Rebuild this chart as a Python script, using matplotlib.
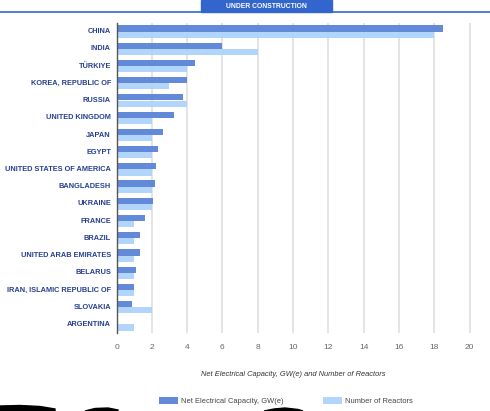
import matplotlib
matplotlib.use('Agg')
import matplotlib.pyplot as plt
from matplotlib.patches import Rectangle, Polygon
from matplotlib.lines import Line2D
import numpy as np

# data
countries = ['CHINA', 'INDIA', 'TÜRKIYE', 'KOREA, REPUBLIC OF', 'RUSSIA',
             'UNITED KINGDOM', 'JAPAN', 'EGYPT', 'UNITED STATES OF AMERICA',
             'BANGLADESH', 'UKRAINE', 'FRANCE', 'BRAZIL', 'UNITED ARAB EMIRATES',
             'BELARUS', 'IRAN, ISLAMIC REPUBLIC OF', 'SLOVAKIA', 'ARGENTINA']
capacity = [18.52, 6.0, 4.46, 4.0, 3.76, 3.26, 2.65, 2.35, 2.21, 2.16, 2.07,
            1.63, 1.34, 1.31, 1.11, 0.97, 0.88, 0.03]
reactors = [18, 8, 4, 3, 4, 2, 2, 2, 2, 2, 2, 1, 1, 1, 1, 1, 2, 1]
xticks = [0, 2, 4, 6, 8, 10, 12, 14, 16, 18, 20]

DARK = '#5b84d6'
LIGHT = '#aed4fb'
LABEL = '#26408f'
BLUE = '#3366cc'

plt.rcParams['font.family'] = ['Liberation Sans', 'DejaVu Sans']

W, H = 490, 411
fig = plt.figure(figsize=(W / 100, H / 100), dpi=100)
ax = fig.add_axes([116.5 / W, 1 - 333 / H, (470.5 - 116.5) / W, (333 - 23) / H])

y = np.arange(len(countries))
bh = 0.36
ax.barh(y - bh / 2, capacity, height=bh, color=DARK, alpha=0.95, zorder=2,
        label='Net Electrical Capacity, GW(e)')
ax.barh(y + bh / 2, reactors, height=bh, color=LIGHT, alpha=0.95, zorder=2,
        label='Number of Reactors')

ax.set_ylim(len(countries) - 0.5, -0.5)
ax.set_xlim(0, 20.05)
ax.set_xticks(xticks)
ax.set_xticklabels([str(t) for t in xticks], fontsize=6, color='#666666')
ax.set_yticks(y - 0.05)
ax.set_yticklabels(countries, fontsize=5.3, fontweight='bold', color=LABEL)
ax.tick_params(axis='both', length=0)
ax.tick_params(axis='y', pad=4)
ax.tick_params(axis='x', pad=8)
ax.grid(axis='x', color='#dcdcdc', linewidth=1.1, zorder=1)
ax.set_axisbelow(True)
for s in ['top', 'right', 'bottom']:
    ax.spines[s].set_visible(False)
ax.spines['left'].set_color('#555555')
ax.spines['left'].set_linewidth(1)
ax.spines['left'].set_zorder(3)

ax.set_xlabel('Net Electrical Capacity, GW(e) and Number of Reactors',
              fontsize=5.4, style='italic', color='#333333', labelpad=14)

# legend
fig.legend(loc='center', bbox_to_anchor=(285.5 / W, 1 - 401 / H), ncol=2, frameon=False,
           fontsize=5.4, handlelength=2.5, handleheight=1.0, handletextpad=0.4,
           columnspacing=5.3, labelcolor='#444444')

# title tab and rule
fig.add_artist(Rectangle((201 / W, 1 - 12 / H), 131 / W, 12 / H,
                         transform=fig.transFigure, color=BLUE, zorder=5))
fig.text(266.5 / W, 1 - 6 / H, 'UNDER CONSTRUCTION', ha='center', va='center',
         fontsize=4.9, fontweight='bold', color='white', zorder=6)
fig.add_artist(Line2D([0, 1], [1 - 12.5 / H, 1 - 12.5 / H], transform=fig.transFigure,
                      color=BLUE, linewidth=1.2))

# dark scan marks along the bottom edge
for pts in [[(0, 406), (20, 405.5), (40, 406.5), (55, 409), (55, 411), (0, 411)],
            [(85, 411), (95, 408.5), (108, 408), (118, 410), (118, 411)],
            [(264, 411), (274, 409), (285, 408), (298, 409.5), (303, 411)]]:
    fig.add_artist(Polygon([(px / W, 1 - py / H) for px, py in pts], closed=True,
                           transform=fig.transFigure, color='black'))

fig.savefig('out.png', dpi=100)
